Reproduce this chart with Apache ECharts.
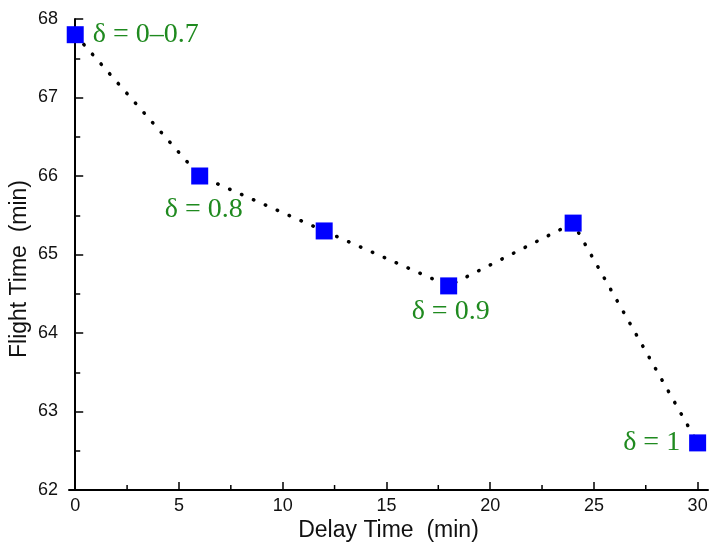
<!DOCTYPE html>
<html><head><meta charset="utf-8">
<script src="https://cdn.jsdelivr.net/npm/echarts@6/dist/echarts.min.js"></script>
<style>html,body{margin:0;padding:0;background:#fff}#c{width:710px;height:545px}</style>
</head><body><div id="c"></div>
<script>
const delayTimes = [0, 6, 12, 18, 24, 30];
const flightTimes = [67.8, 66.0, 65.3, 64.6, 65.4, 62.6];
const pointLabels = ['δ = 0–0.7', 'δ = 0.8', '', 'δ = 0.9', '', 'δ = 1'];
const xTicks = [0, 5, 10, 15, 20, 25, 30];
const xMinorTicks = [2.5, 7.5, 12.5, 17.5, 22.5, 27.5];

const labelPlacement = [
  {position: 'right', distance: 9},
  {position: 'bottom', distance: 11, offset: [4, 0]},
  null,
  {position: 'bottom', distance: 3, offset: [2, 0]},
  null,
  {position: 'left', distance: 9}
];

const chart = echarts.init(document.getElementById('c'));
const data = delayTimes.map((x, i) => {
  const item = {value: [x, flightTimes[i]]};
  if (pointLabels[i]) {
    item.label = Object.assign({show: true, formatter: pointLabels[i]}, labelPlacement[i]);
  }
  return item;
});

const axisTextStyle = {color: '#111', fontFamily: 'Liberation Sans, Arial', fontSize: 18};
chart.setOption({
  animation: false,
  grid: {left: 69, right: 2, top: 19, bottom: 55, containLabel: false, outerBoundsMode: 'none'},
  xAxis: {
    type: 'value', min: -0.3, max: 30.5,
    name: 'Delay Time  (min)', nameLocation: 'middle', nameGap: 29, nameMoveOverlap: false,
    nameTextStyle: {color: '#111', fontFamily: 'Liberation Sans, Arial', fontSize: 23},
    axisLine: {lineStyle: {color: '#000', width: 2}},
    axisTick: {inside: true, length: 8, lineStyle: {color: '#000', width: 1.5}, customValues: xTicks},
    minorTick: {show: false},
    axisLabel: Object.assign({margin: 7, customValues: xTicks}, axisTextStyle),
    splitLine: {show: false}
  },
  yAxis: {
    type: 'value', min: 62, max: 68, interval: 1,
    name: 'Flight Time  (min)', nameLocation: 'middle', nameGap: 38, nameRotate: 90, nameMoveOverlap: false,
    nameTextStyle: {color: '#111', fontFamily: 'Liberation Sans, Arial', fontSize: 23, padding: [0, 29, 0, 0]},
    axisLine: {show: true, lineStyle: {color: '#000', width: 2}},
    axisTick: {inside: true, length: 8, lineStyle: {color: '#000', width: 1.5}},
    minorTick: {show: true, splitNumber: 2, length: 5, lineStyle: {color: '#000', width: 1.5}},
    axisLabel: Object.assign({margin: 11}, axisTextStyle),
    splitLine: {show: false}
  },
  series: [
    {
      type: 'line', data: data,
      symbol: 'rect', symbolSize: 17,
      itemStyle: {color: '#0000ff'},
      lineStyle: {color: '#000', width: 3.5, type: [0.5, 12.5], cap: 'round'},
      label: {color: '#1f8a1f', fontFamily: 'Liberation Serif, Times New Roman', fontSize: 28},
      z: 3
    }
  ]
});

// minor x ticks placed through the axis scale
const minorGraphics = xMinorTicks.map(v => {
  const p = chart.convertToPixel({gridIndex: 0}, [v, 62]);
  return {type: 'line', shape: {x1: p[0], y1: p[1], x2: p[0], y2: p[1] - 5}, style: {stroke: '#000', lineWidth: 1.5}};
});
chart.setOption({graphic: minorGraphics});
</script></body></html>
